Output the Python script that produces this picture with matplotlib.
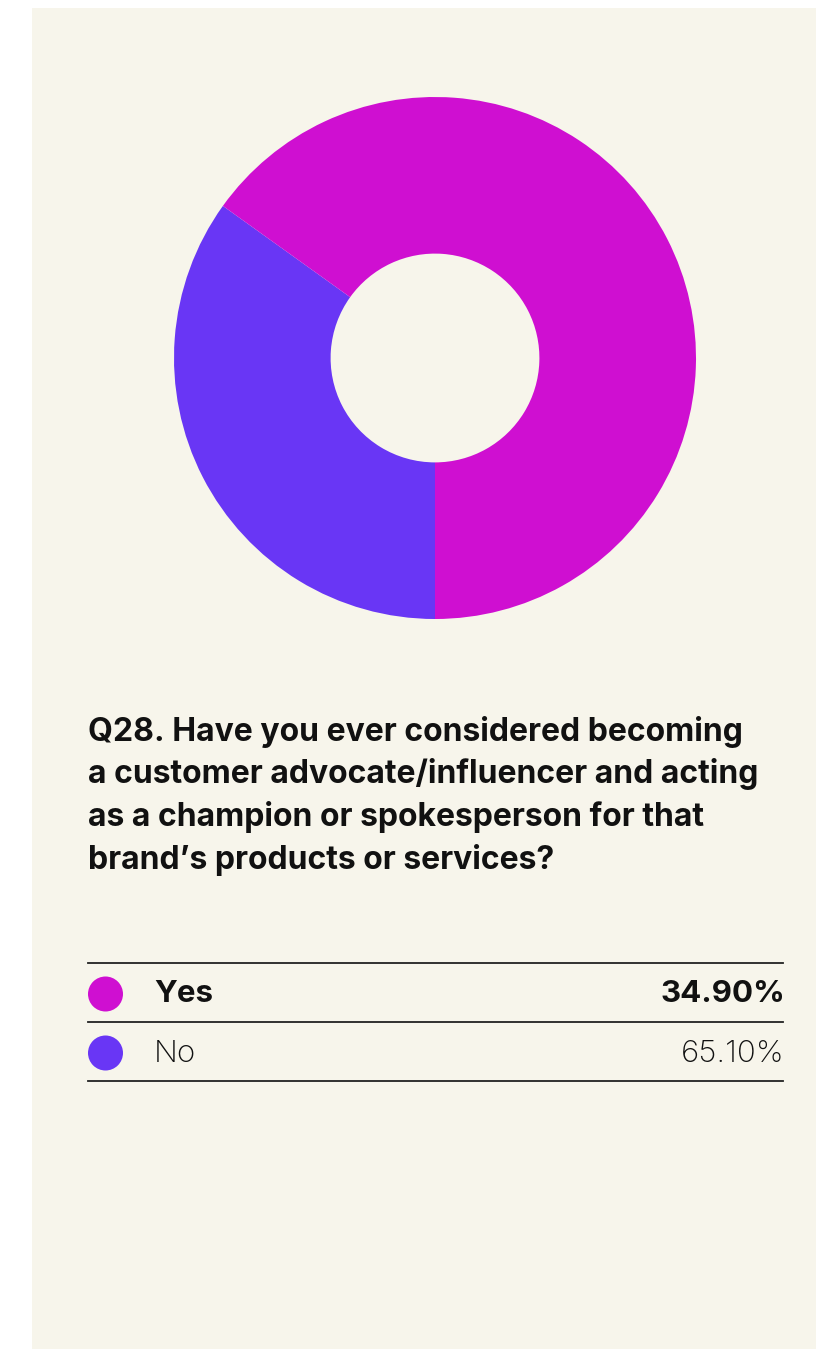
import matplotlib.pyplot as plt
from matplotlib.patches import Rectangle, Ellipse

W, H = 816, 1349

labels = ["Yes", "No"]
values = [34.90, 65.10]
colors = ["#CF0FD1", "#6936F5"]
title_lines = [
    "Q28. Have you ever considered becoming",
    "a customer advocate/influencer and acting",
    "as a champion or spokesperson for that",
    "brand\u2019s products or services?",
]

bg = "#F7F5EB"
font = "Inter"


def fx(x):
    return x / W


def fy(y):
    return 1 - y / H


fig = plt.figure(figsize=(W / 100, H / 100), dpi=100)
fig.patch.set_facecolor("white")
fig.patches.append(Rectangle((fx(32), 0), 1 - fx(32), fy(8), transform=fig.transFigure,
                             facecolor=bg, edgecolor="none", zorder=-5))

# donut (slice colours drawn as they appear in the source graphic)
cx, cy, r = 435, 358, 261
ax = fig.add_axes([fx(cx - r), fy(cy + r), 2 * r / W, 2 * r / H], zorder=2)
ax.pie([values[0], values[1]], colors=[colors[1], colors[0]], startangle=-90,
       counterclock=False, radius=1, wedgeprops=dict(width=0.6, linewidth=0))
ax.set_xlim(-1, 1)
ax.set_ylim(-1, 1)
ax.set_aspect("auto")
ax.axis("off")

# question
for i, line in enumerate(title_lines):
    fig.text(fx(88), fy(741 + i * 42.5), line, fontsize=23, fontweight="bold",
             family=font, color="#111111", va="baseline", ha="left")

# legend table
for y in [963, 1022, 1081]:
    fig.add_artist(plt.Line2D([fx(88), fx(783)], [fy(y), fy(y)], color="#222222", lw=1.3))

rows_y = [994, 1053]
for i in range(len(labels)):
    yc = rows_y[i]
    fig.add_artist(Ellipse((fx(105.5), fy(yc)), 35 / W, 35 / H, transform=fig.transFigure,
                           facecolor=colors[i], edgecolor="none"))
    wt = "bold" if i == 0 else "light"
    fig.text(fx(154), fy(yc + 8.5), labels[i], fontsize=22.5, fontweight=wt, family=font,
             color="#111111", va="baseline", ha="left")
    fig.text(fx(785), fy(yc + 8.5), "%.2f%%" % values[i], fontsize=22.5, fontweight=wt,
             family=font, color="#111111", va="baseline", ha="right")

fig.savefig("out.png", dpi=100, facecolor=fig.get_facecolor())
